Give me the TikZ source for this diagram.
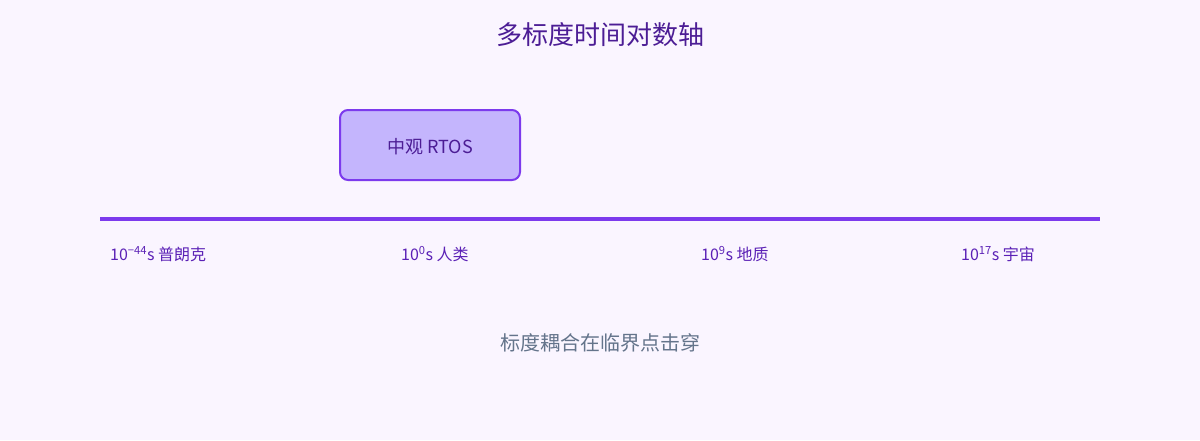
\documentclass[tikz,border=0pt]{standalone}
\usepackage{fontspec}
\setmainfont{Noto Sans CJK SC}
\definecolor{bg}{HTML}{FAF5FF}
\definecolor{titlec}{HTML}{4C1D95}
\definecolor{axisc}{HTML}{7C3AED}
\definecolor{boxfill}{HTML}{C4B5FD}
\definecolor{labelc}{HTML}{5B21B6}
\definecolor{notec}{HTML}{64748B}
\begin{document}
\begin{tikzpicture}[x=1pt,y=-1pt,
  titlestyle/.style={font=\fontsize{26}{30}\selectfont, text=titlec},
  boxstyle/.style={draw=axisc, line width=2pt, fill=boxfill, rounded corners=8pt, minimum width=180pt, minimum height=70pt, text=titlec, font=\fontsize{18}{21}\selectfont, inner sep=0pt},
  axisstyle/.style={draw=axisc, line width=4pt},
  ticklabel/.style={anchor=west, inner sep=0pt, text=labelc, font=\fontsize{16}{19}\selectfont},
  notestyle/.style={text=notec, font=\fontsize{20}{24}\selectfont}]
\fill[bg] (0,0) rectangle (1200,440);
\useasboundingbox (0,0) rectangle (1200,440);
\node[titlestyle] (title) at (600,35) {多标度时间对数轴};
\node[boxstyle] (meso) at (430,145) {};
\node[text=titlec, font=\fontsize{18}{21}\selectfont] (mesotext) at ([yshift=-1.5pt]meso.center) {中观 RTOS};
\coordinate (axl) at (100,219);
\coordinate (axr) at (1100,219);
\draw[axisstyle] (axl) -- (axr);
\node[ticklabel] (planck) at (110,254) {10\textsuperscript{−44}s 普朗克};
\node[ticklabel] (human) at (401,254) {10\textsuperscript{0}s 人类};
\node[ticklabel] (geo) at (701,254) {10\textsuperscript{9}s 地质};
\node[ticklabel] (cosmos) at (961,254) {10\textsuperscript{17}s 宇宙};
\node[notestyle] (note) at (600,343) {标度耦合在临界点击穿};
\end{tikzpicture}
\end{document}
